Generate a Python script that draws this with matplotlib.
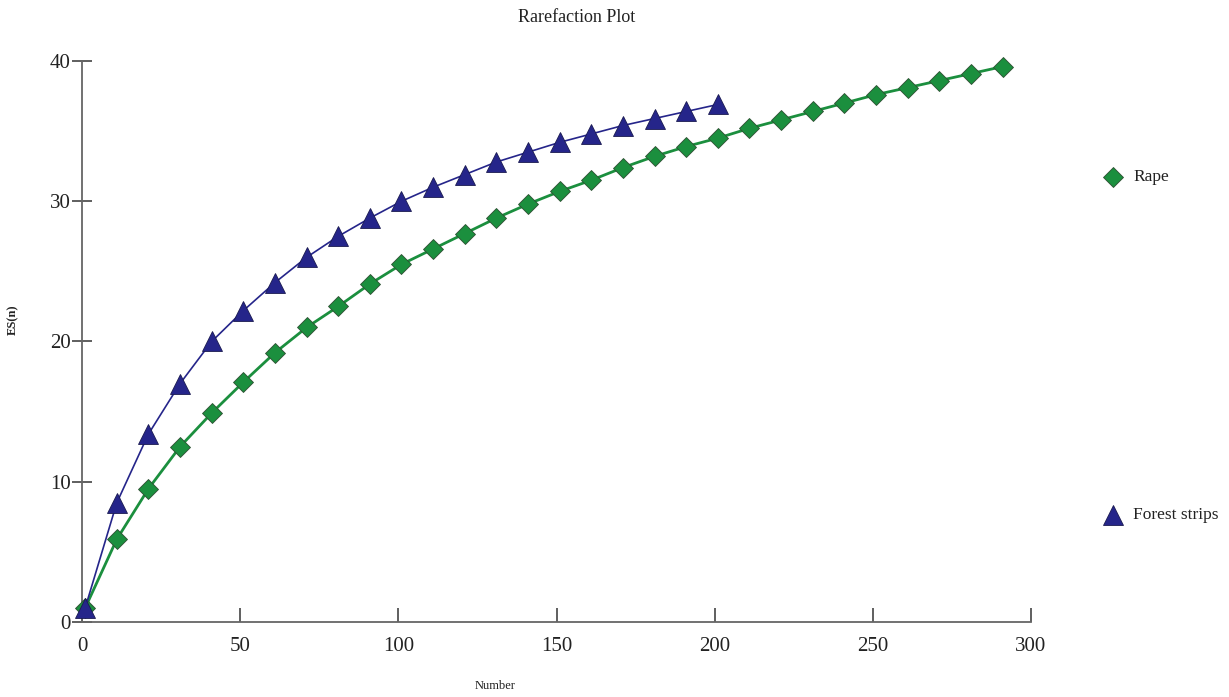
import matplotlib
matplotlib.use("Agg")
from matplotlib import pyplot as plt

plt.rcParams['font.family'] = ['Liberation Serif', 'DejaVu Serif']

#--- data
rape_n = list(range(1, 292, 10))
rape_es = [1.0, 5.9, 9.5, 12.5, 14.9, 17.1, 19.2, 21.0, 22.5, 24.1,
           25.5, 26.6, 27.7, 28.8, 29.8, 30.7, 31.5, 32.4, 33.2, 33.9,
           34.5, 35.2, 35.8, 36.4, 37.0, 37.6, 38.1, 38.6, 39.1, 39.6]

forest_n = list(range(1, 202, 10))
forest_es = [1.0, 8.5, 13.4, 17.0, 20.0, 22.2, 24.2, 26.0, 27.5, 28.8,
             30.0, 31.0, 31.9, 32.8, 33.5, 34.2, 34.8, 35.4, 35.9, 36.4,
             36.9]

x_ticks = [0, 50, 100, 150, 200, 250, 300]
y_ticks = [0, 10, 20, 30, 40]

green = '#1b8f3e'
navy = '#25258a'

fig = plt.figure(figsize=(12.29, 6.97), dpi=100)
ax = fig.add_axes([82/1229, 75/697, (1031-82)/1229, (622-61)/697])

ax.plot(rape_n, rape_es, '-', color=green, linewidth=2.0, zorder=2)
ax.plot(rape_n, rape_es, 'D', color=green, markersize=10.5,
        markeredgecolor='#2e4f32', markeredgewidth=0.6, zorder=3)
ax.plot(forest_n, forest_es, '-', color=navy, linewidth=1.2, zorder=4)
ax.plot(forest_n, forest_es, '^', color=navy, markersize=14,
        markeredgecolor='#1a1a50', markeredgewidth=0.6, zorder=5)

ax.set_xlim(0, 300)
ax.set_ylim(0, 40)
ax.set_xticks(x_ticks)
ax.set_yticks(y_ticks)
ax.spines['top'].set_visible(False)
ax.spines['right'].set_visible(False)
for s in ['left', 'bottom']:
    ax.spines[s].set_color('#666666')
    ax.spines[s].set_linewidth(1.3)
ax.tick_params(axis='x', direction='in', length=10, width=1.2, color='#444444',
               labelsize=15, labelcolor='#222222', pad=11)
ax.tick_params(axis='y', direction='inout', length=14, width=1.2, color='#444444',
               labelsize=15, labelcolor='#222222', pad=1)
for ln in ax.lines:
    ln.set_clip_on(False)

fig.text(577/1229, 1-18/697, 'Rarefaction Plot', ha='center', va='center',
         fontsize=13, color='#222222')
fig.text(495/1229, 1-686/697, 'Number', ha='center', va='center',
         fontsize=9, color='#222222')
fig.text(13/1229, 1-320/697, 'ES(n)', ha='center', va='center',
         rotation=90, fontsize=9, fontweight='bold', color='#222222')

# legend drawn by hand on the right
fig.lines.append(plt.Line2D([1113/1229], [1-177/697], marker='D', color=green,
                            markersize=10.5, markeredgecolor='#2e4f32',
                            markeredgewidth=0.6, transform=fig.transFigure))
fig.text(1133/1229, 1-177/697, 'Rape', ha='left', va='center',
         fontsize=12.5, color='#222222')
fig.lines.append(plt.Line2D([1113/1229], [1-515/697], marker='^', color=navy,
                            markersize=14, markeredgecolor='#1a1a50',
                            markeredgewidth=0.6, transform=fig.transFigure))
fig.text(1133/1229, 1-515/697, 'Forest strips', ha='left', va='center',
         fontsize=12.5, color='#222222')

fig.savefig('out.png', dpi=100)
